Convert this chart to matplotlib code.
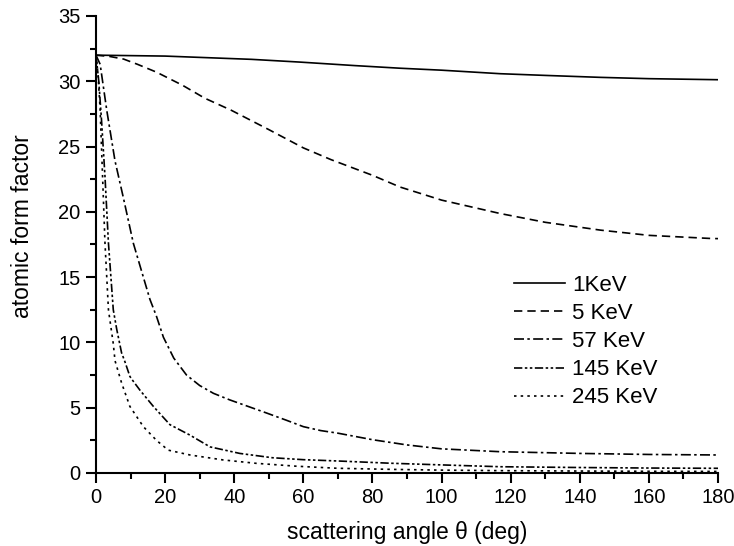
import matplotlib
matplotlib.use("Agg")
import matplotlib.pyplot as plt
from matplotlib.ticker import MultipleLocator

plt.rcParams['font.family'] = ['Liberation Sans', 'DejaVu Sans']

labels = ["1KeV", "5 KeV", "57 KeV", "145 KeV", "245 KeV"]

x_1kev = [0, 20, 33, 45, 59, 75, 88, 100, 117, 130, 146, 160, 180]
y_1kev = [32.0, 31.93, 31.8, 31.68, 31.47, 31.2, 31.0, 30.85, 30.58, 30.45, 30.3, 30.2, 30.12]

x_5kev = [0, 4, 8, 12, 17.5, 25, 31.5, 39, 50, 60, 68, 80, 88, 100, 117, 130, 146, 160, 178, 180]
y_5kev = [32.0, 31.9, 31.7, 31.3, 30.7, 29.7, 28.7, 27.8, 26.3, 24.9, 24.0, 22.8, 21.9, 20.9, 19.87, 19.2, 18.6, 18.2, 17.96, 17.95]

x_57kev = [0, 1.2, 3.1, 5.5, 7.9, 10.8, 13.7, 15.6, 17.5, 19.5, 22.5, 26.2, 30, 34, 38.7, 44, 49.3, 55, 60, 65, 70, 80, 90, 100, 117, 140, 160, 180]
y_57kev = [32.0, 31.3, 27.8, 23.9, 21.1, 17.6, 15.0, 13.3, 12.0, 10.4, 8.8, 7.5, 6.7, 6.1, 5.6, 5.1, 4.6, 4.05, 3.55, 3.25, 3.05, 2.55, 2.15, 1.85, 1.63, 1.5, 1.42, 1.38]

x_145kev = [0, 0.8, 1.6, 2.6, 3.6, 5.0, 6.0, 7.4, 8.4, 9.8, 10.3, 12.7, 16.6, 21.4, 27.2, 33, 41.6, 51, 60, 70, 85, 100, 117, 140, 160, 180]
y_145kev = [32.0, 30.0, 27.0, 22.7, 17.6, 12.5, 11.0, 9.2, 8.5, 7.4, 7.2, 6.35, 5.1, 3.7, 2.9, 2.0, 1.5, 1.17, 1.02, 0.92, 0.75, 0.62, 0.48, 0.42, 0.38, 0.36]

x_245kev = [0, 0.6, 1.2, 1.9, 2.6, 3.6, 5.0, 5.5, 7.4, 9.8, 13.7, 17.5, 20.9, 27.2, 36.8, 46.4, 58, 70, 85, 100, 117, 140, 160, 180]
y_245kev = [32.0, 30.5, 27.8, 22.7, 17.6, 12.5, 9.9, 8.6, 6.9, 5.1, 3.55, 2.5, 1.75, 1.38, 1.0, 0.74, 0.52, 0.36, 0.28, 0.22, 0.18, 0.15, 0.13, 0.12]

fig = plt.figure(figsize=(7.34, 5.46), dpi=100)
ax = fig.add_axes([0.1308, 0.1337, 0.8474, 0.837])

ax.plot(x_1kev, y_1kev, color='black', lw=1.2, linestyle='-', label=labels[0])
ax.plot(x_5kev, y_5kev, color='black', lw=1.2, linestyle=(0, (5, 3)), label=labels[1])
ax.plot(x_57kev, y_57kev, color='black', lw=1.2, linestyle=(0, (6, 2, 1.5, 2)), label=labels[2])
ax.plot(x_145kev, y_145kev, color='black', lw=1.2, linestyle=(0, (5, 1.5, 1.5, 1.5, 1.5, 1.5)), label=labels[3])
ax.plot(x_245kev, y_245kev, color='black', lw=1.2, linestyle=(0, (1.5, 2.5)), label=labels[4])

ax.set_xlim(0, 180)
ax.set_ylim(0, 35)
ax.xaxis.set_major_locator(MultipleLocator(20))
ax.xaxis.set_minor_locator(MultipleLocator(10))
ax.yaxis.set_major_locator(MultipleLocator(5))
ax.yaxis.set_minor_locator(MultipleLocator(2.5))

for s in ['top', 'right']:
    ax.spines[s].set_visible(False)
for s in ['left', 'bottom']:
    ax.spines[s].set_linewidth(1.5)

ax.tick_params(which='major', direction='out', length=7, width=1.5, labelsize=14.5, pad=4)
ax.tick_params(which='minor', direction='out', length=4, width=1.5)

ax.set_xlabel('scattering angle θ (deg)', fontsize=16.5)
ax.set_ylabel('atomic form factor', fontsize=16.5)
ax.xaxis.set_label_coords(0.5, -0.104)
ax.yaxis.set_label_coords(-0.100, 0.54)

leg = ax.legend(loc='upper left', bbox_to_anchor=(0.640, 0.477), frameon=False,
                fontsize=16, handlelength=2.3, handletextpad=0.32, labelspacing=0.32)

fig.savefig('out.png', dpi=100)
